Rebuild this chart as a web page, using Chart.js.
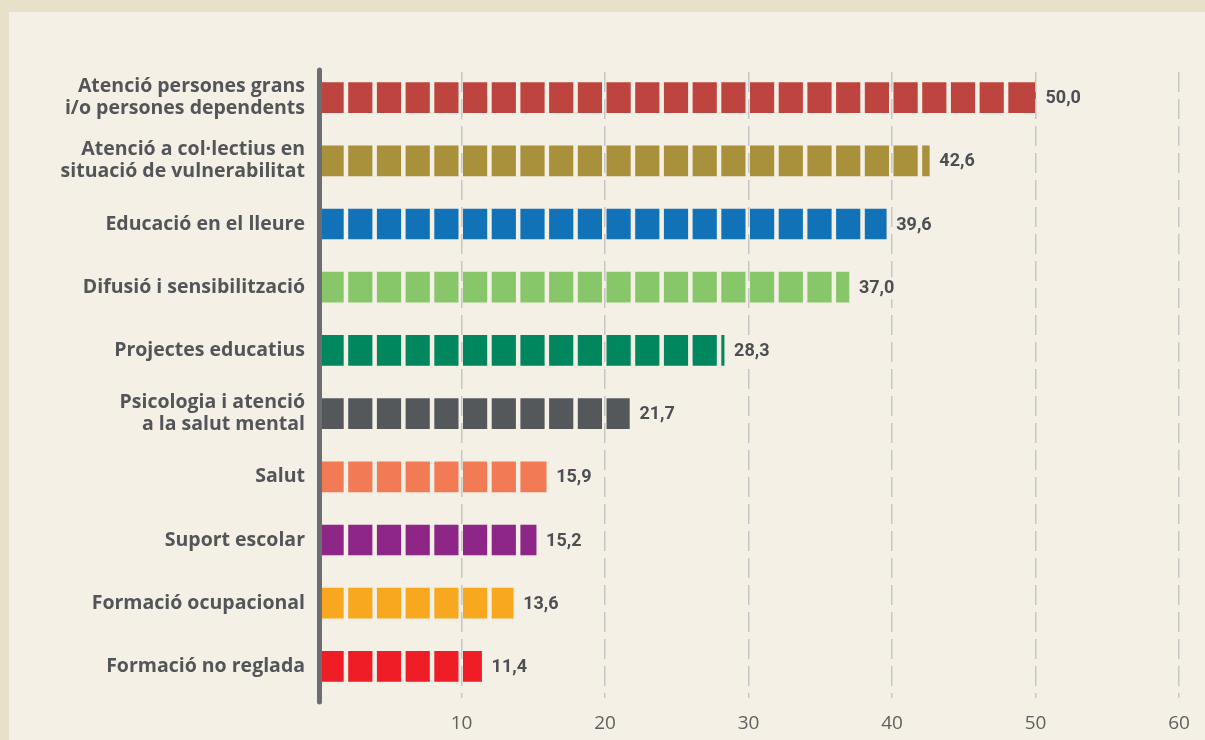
<!DOCTYPE html>
<html>
<head>
<meta charset="utf-8">
<script src="https://cdn.jsdelivr.net/npm/chart.js@4"></script>
<style>
  html, body { margin: 0; padding: 0; width: 1205px; height: 740px; overflow: hidden; background: #E8E1C9; }
  #panel { position: absolute; left: 9px; top: 12px; right: 0; bottom: 0; background: #F4F0E6; }
  #wrap { position: absolute; left: 0; top: 0; width: 1205px; height: 740px; }
</style>
</head>
<body>
<div id="panel"></div>
<div id="wrap"><canvas id="c" width="1205" height="740"></canvas></div>
<script>
const categories = [
  ["Atenció persones grans", "i/o persones dependents"],
  ["Atenció a col·lectius en", "situació de vulnerabilitat"],
  "Educació en el lleure",
  "Difusió i sensibilització",
  "Projectes educatius",
  ["Psicologia i atenció", "a la salut mental"],
  "Salut",
  "Suport escolar",
  "Formació ocupacional",
  "Formació no reglada"
];
const values = [50.0, 42.6, 39.6, 37.0, 28.3, 21.7, 15.9, 15.2, 13.6, 11.4];
const barColors = ["#BE453F", "#A8913A", "#1272B8", "#88C66A", "#00875E", "#55585A", "#F27A54", "#8E2688", "#F8A81E", "#EE1D26"];
const xTicks = [0, 10, 20, 30, 40, 50, 60];
const segmentStep = 2;

const PANEL = "#F4F0E6";
const TEXT = "#545558";

const segmentPlugin = {
  id: 'segments',
  afterDatasetsDraw(chart) {
    const ctx = chart.ctx;
    const xs = chart.scales.x;
    const meta = chart.getDatasetMeta(0);
    ctx.save();
    meta.data.forEach((bar, i) => {
      const v = values[i];
      const top = bar.y - bar.height / 2 - 1;
      ctx.fillStyle = PANEL;
      for (let k = segmentStep; k < v; k += segmentStep) {
        const px = xs.getPixelForValue(k);
        ctx.fillRect(px - 3, top, 4.5, bar.height + 2);
      }
    });
    ctx.restore();
  },
  afterDraw(chart) {
    const ctx = chart.ctx;
    const a = chart.chartArea;
    const meta = chart.getDatasetMeta(0);
    ctx.save();
    meta.data.forEach((bar, i) => {
      const v = values[i];
      const label = v.toFixed(1).replace('.', ',');
      ctx.font = "bold 18px Roboto, 'Liberation Sans', sans-serif";
      const w = ctx.measureText(label).width;
      ctx.fillStyle = PANEL;
      ctx.fillRect(bar.x + 8, bar.y - 10, w + 4, 22);
      ctx.fillStyle = "#4E4F52";
      ctx.textAlign = 'left';
      ctx.textBaseline = 'middle';
      ctx.fillText(label, bar.x + 10, bar.y + 1);
    });
    ctx.strokeStyle = "#6D6E71";
    ctx.lineWidth = 5;
    ctx.lineCap = 'round';
    ctx.beginPath();
    ctx.moveTo(a.left + 1.5, a.top + 4);
    ctx.lineTo(a.left + 1.5, a.bottom + 4);
    ctx.stroke();
    ctx.restore();
  }
};

new Chart(document.getElementById('c'), {
  type: 'bar',
  data: {
    labels: categories,
    datasets: [{
      data: values,
      backgroundColor: barColors,
      barThickness: 30,
      borderWidth: 0
    }]
  },
  plugins: [segmentPlugin],
  options: {
    indexAxis: 'y',
    responsive: false,
    animation: false,
    layout: { padding: { top: 66, right: 26, bottom: 0, left: 0 } },
    plugins: { legend: { display: false }, tooltip: { enabled: false } },
    scales: {
      x: {
        min: xTicks[0],
        max: xTicks[xTicks.length - 1],
        afterBuildTicks(scale) { scale.ticks = xTicks.map(v => ({ value: v })); },
        afterFit(scale) { scale.height = 42; },
        grid: {
          z: 1,
          color: (c) => c.tick && c.tick.value === 0 ? 'rgba(0,0,0,0)' : '#C6C6C6',
          lineWidth: 1.5,
          drawTicks: false
        },
        border: { display: true, color: 'rgba(0,0,0,0)', width: 0, dash: [20, 7], dashOffset: -6 },
        ticks: {
          padding: 14,
          color: "#606060",
          font: { family: "'Open Sans', sans-serif", size: 19, weight: '400' },
          callback: (v) => v === 0 ? '' : String(v)
        }
      },
      y: {
        afterFit(scale) { scale.width = 318; },
        grid: { display: false, drawTicks: false },
        border: { display: false },
        ticks: {
          padding: 13,
          color: TEXT,
          font: { family: "'Open Sans', sans-serif", size: 19.5, weight: 'bold', lineHeight: 1.13 }
        }
      }
    }
  }
});
</script>
</body>
</html>
